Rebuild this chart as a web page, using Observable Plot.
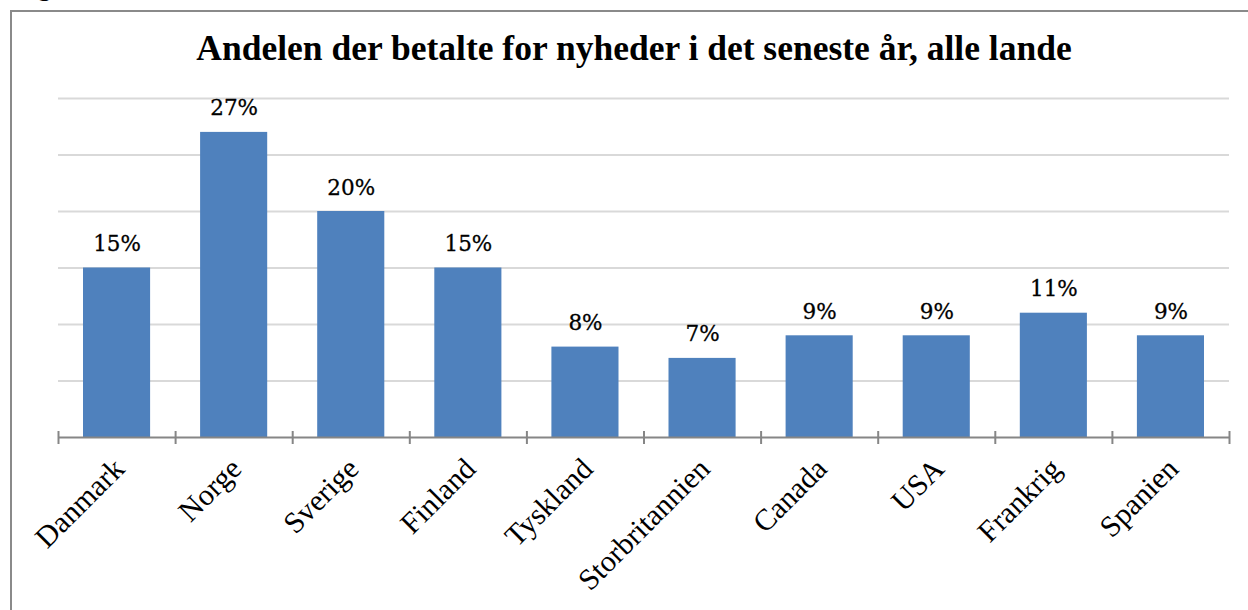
<!DOCTYPE html>
<html>
<head>
<meta charset="utf-8">
<script src="https://cdn.jsdelivr.net/npm/d3@7"></script>
<script src="https://cdn.jsdelivr.net/npm/@observablehq/plot@0.6"></script>
<style>
  html, body { margin: 0; padding: 0; background: #fff; }
  #wrap { position: relative; width: 1248px; height: 610px; overflow: hidden; }
  #frame { position: absolute; left: 10px; top: 10px; width: 1300px; height: 700px;
           border-left: 2px solid #8a8a8a; border-top: 2px solid #8a8a8a; box-sizing: border-box; }
  #fig { position: absolute; left: 15px; top: -27px; font: bold 26px "Liberation Serif", serif; color: #000; }
  #title { position: absolute; left: 0; width: 1268px; top: 28px; text-align: center;
           font: bold 35.5px "Liberation Serif", serif; color: #000; line-height: 40px; }
  #chart { position: absolute; left: 0; top: 0; }
</style>
</head>
<body>
<div id="wrap">
  <div id="fig">Figur</div>
  <div id="frame"></div>
  <div id="title">Andelen der betalte for nyheder i det seneste år, alle lande</div>
  <div id="chart"></div>
</div>
<script>
const categories = ["Danmark", "Norge", "Sverige", "Finland", "Tyskland", "Storbritannien", "Canada", "USA", "Frankrig", "Spanien"];
const values = [15, 27, 20, 15, 8, 7, 9, 9, 11, 9];
const gridValues = [5, 10, 15, 20, 25, 30];

const data = categories.map((c, i) => ({ i, country: c, value: values[i] }));
const n = categories.length;

const chart = Plot.plot({
  width: 1248,
  height: 610,
  marginLeft: 58,
  marginRight: 19,
  marginTop: 98,
  marginBottom: 173,
  x: { domain: [0, n], axis: null },
  y: { domain: [0, 30], axis: null },
  style: { background: "transparent", overflow: "visible" },
  marks: [
    Plot.ruleY(gridValues, { stroke: "#d9d9d9", strokeWidth: 2 }),
    Plot.rectY(data, { x1: d => d.i, x2: d => d.i + 1, y: "value", fill: "#4f81bd", insetLeft: 25, insetRight: 25 }),
    Plot.ruleY([0], { stroke: "#868686", strokeWidth: 2 }),
    Plot.ruleX(d3.range(0, n + 1), { y1: 0, y2: 0, insetTop: -6, insetBottom: -7, stroke: "#868686", strokeWidth: 2 }),
    Plot.text(data, { x: d => d.i + 0.5, y: "value", text: d => d.value + "%", lineAnchor: "bottom", dy: -17,
      fontFamily: "DejaVu Serif", fontSize: 21.5, fill: "#000", stroke: "#000", strokeWidth: 0.3 }),
    Plot.text(data, { x: d => d.i + 0.5, y: 0, text: "country", rotate: -45, textAnchor: "end", lineAnchor: "top",
      dx: -6, dy: 18, fontFamily: "Liberation Serif", fontSize: 30, fill: "#000" })
  ]
});
document.getElementById("chart").appendChild(chart);
</script>
</body>
</html>
